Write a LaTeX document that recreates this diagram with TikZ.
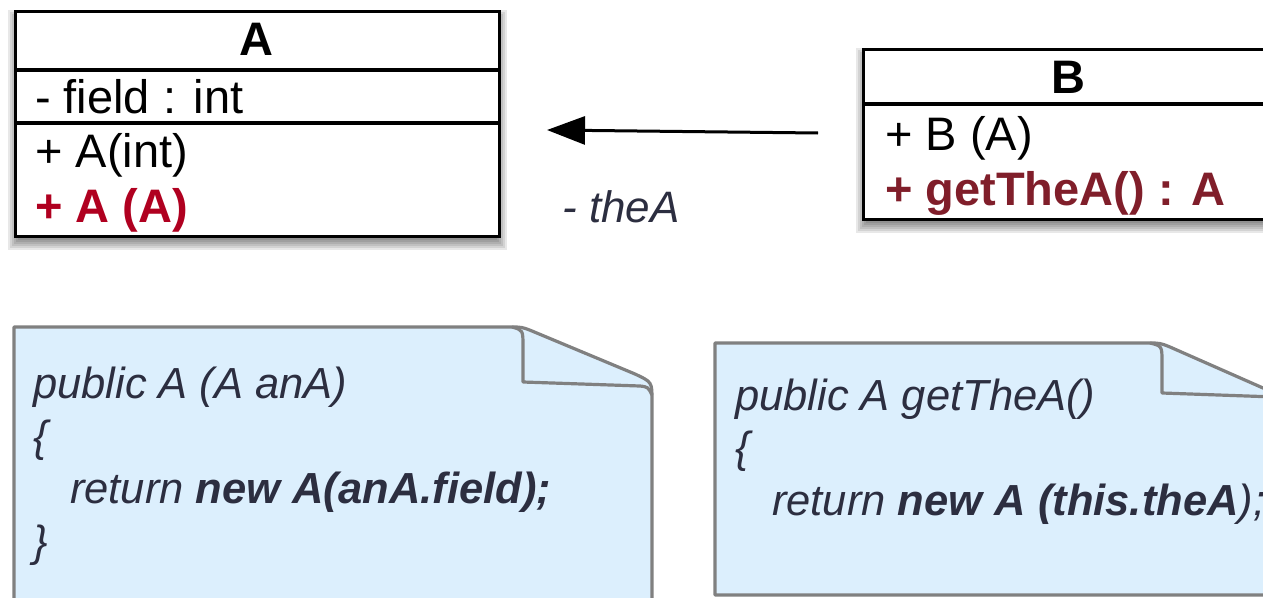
\documentclass[tikz,border=0pt]{standalone}
\usepackage{fontspec}
\setmainfont{Liberation Sans}
\usetikzlibrary{arrows.meta,backgrounds}
\definecolor{redA}{RGB}{176,0,32}
\definecolor{redB}{RGB}{128,30,42}
\definecolor{notefill}{RGB}{220,239,253}
\definecolor{notedraw}{RGB}{128,128,128}
\definecolor{codetxt}{RGB}{44,46,64}
\tikzset{
 classbox/.style={draw=black, line width=3.2pt, fill=white, rectangle, anchor=north west, inner sep=0pt},
 softshadow/.style={fill=black, opacity=0.09},
 divider/.style={line width=3.2pt},
 member/.style={anchor=base west, inner sep=0pt, font=\fontsize{47}{56}\selectfont},
 classtitle/.style={anchor=base, inner sep=0pt, font=\fontsize{47}{56}\selectfont\bfseries},
 note/.style={fill=notefill, draw=notedraw, line width=3.2pt, line join=round},
 fold/.style={draw=notedraw, line width=3.2pt, line join=round},
 code/.style={anchor=base west, inner sep=0pt, text=codetxt, font=\fontsize{43.5}{52}\selectfont\itshape},
 assoc/.style={line width=3pt, -{Triangle[length=38pt,width=28pt]}},
 rolelabel/.style={anchor=base west, inner sep=0pt, text=codetxt, font=\fontsize{44}{52}\selectfont\itshape},
}
\begin{document}
\begin{tikzpicture}[x=1pt,y=-1pt]
\useasboundingbox (0,0) rectangle (1263,597);
\clip (0,0) rectangle (1263,597);
% class A
\node[classbox, minimum width=484pt, minimum height=225pt] (A) at (14,10) {};
\draw[divider] (A.west |- 0,70) -- (A.east |- 0,70);
\draw[divider] (A.west |- 0,123) -- (A.east |- 0,123);
\node[classtitle] (Atitle) at (256,55) {A};
\node[member] (Afield) at (35,113) {- field : int};
\node[member] (Am1) at (35,167) {+ A(int)};
\node[member, text=redA, font=\fontsize{47}{56}\selectfont\bfseries] (Am2) at (35,222) {+ A (A)};
% class B
\node[classbox, minimum width=412pt, minimum height=170pt] (B) at (862,48) {};
\draw[divider] (B.west |- 0,104) -- (B.east |- 0,104);
\node[classtitle] (Btitle) at (1068,93) {B};
\node[member] (Bm1) at (885,150) {+ B (A)};
\node[member, text=redB, font=\fontsize{47}{56}\selectfont\bfseries] (Bm2) at (885,205) {+ getTheA() : A};
% shadows of the classes
\begin{scope}[on background layer]
\foreach \r in {-8,-6,...,6} {
  \fill[softshadow] ([xshift=-\r pt, yshift=\r pt-6pt]A.north west) rectangle ([xshift=\r pt, yshift=-\r pt-6pt]A.south east);
  \fill[softshadow] ([xshift=-\r pt, yshift=\r pt-6pt]B.north west) rectangle ([xshift=\r pt, yshift=-\r pt-6pt]B.south east);
}
\end{scope}
% association
\coordinate (tailB) at (818,133);
\coordinate (headA) at (547,130);
\draw[assoc] (tailB) -- (headA);
\node[rolelabel] (role) at (562,222) {- theA};
% note 1
\draw[note] (14,610) -- (14,327) -- (510,327) .. controls (522,327) .. (532,331) -- (635,374)
  .. controls (652,382) .. (652,400) -- (652,610) -- cycle;
\draw[fold] (512,327) .. controls (523,330) .. (523,347) -- (523,382) -- (640,386)
  .. controls (648,387) .. (652,395);
\node[code] (n1a) at (33,398) {public A (A anA)};
\node[code] (n1b) at (33,451) {\{};
\node[code] (n1c) at (70,503) {return \textbf{new A(anA.field);}};
\node[code] (n1d) at (33,556) {\}};
% note 2
\draw[note] (715,595) -- (715,343) -- (1148,343) .. controls (1160,343) .. (1170,347) -- (1263,388)
  -- (1300,404) -- (1300,595) -- cycle;
\draw[fold] (1150,343) .. controls (1162,346) .. (1162,362) -- (1162,393) -- (1275,397);
\node[code] (n2a) at (735,410) {public A getTheA()};
\node[code] (n2b) at (735,462) {\{};
\node[code] (n2c) at (772,515) {return \textbf{new A (this.theA});};
\end{tikzpicture}
\end{document}
